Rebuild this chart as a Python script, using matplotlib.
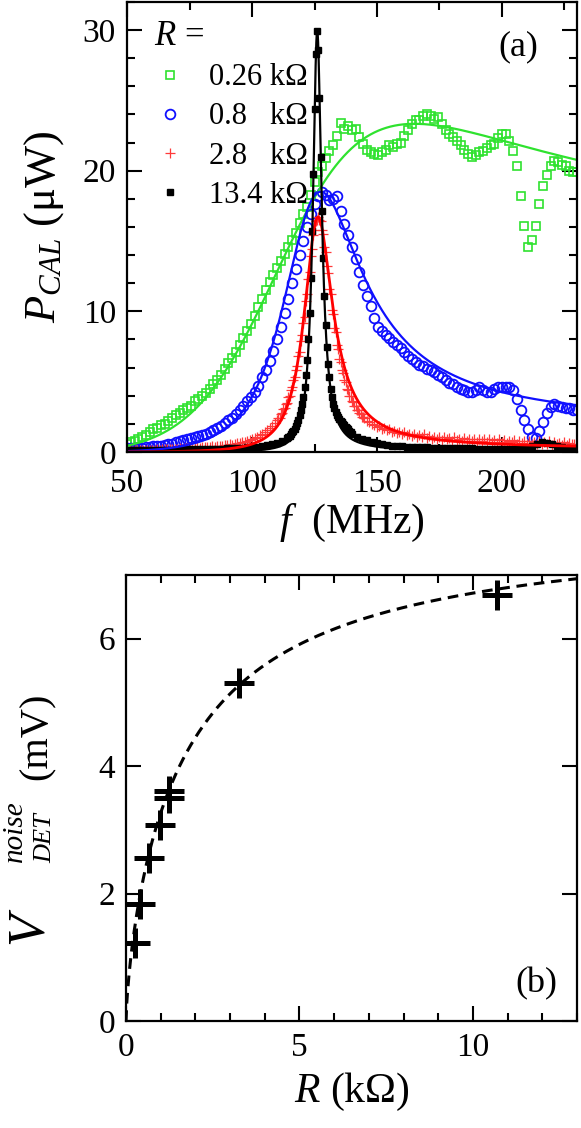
import numpy as np
import matplotlib
matplotlib.use('Agg')
import matplotlib.pyplot as plt

plt.rcParams['font.family'] = ['Liberation Serif', 'DejaVu Serif']
plt.rcParams['mathtext.fontset'] = 'custom'
plt.rcParams['mathtext.rm'] = 'Liberation Serif'
plt.rcParams['mathtext.it'] = 'Liberation Serif:italic'

# ---- panel (a): calibration power vs frequency ----
labels = ['0.26 kΩ', '0.8   kΩ', '2.8   kΩ', '13.4 kΩ']

f_gb = np.arange(50, 230.01, 1.5)   # green / blue sampling (MHz)
p_green = [0.6, 0.7, 0.8, 0.9, 1.1, 1.2, 1.4, 1.6, 1.7, 1.9,
           2.0, 2.2, 2.4, 2.6, 2.8, 3.0, 3.1, 3.3, 3.6, 3.8,
           4.0, 4.2, 4.5, 4.8, 5.1, 5.5, 5.9, 6.3, 6.7, 7.1,
           7.6, 8.1, 8.6, 9.1, 9.7, 10.3, 10.9, 11.5, 12.1, 12.6,
           13.1, 13.6, 14.1, 14.6, 15.1, 15.6, 16.3, 16.9, 17.4, 18.3,
           19.2, 19.9, 20.3, 20.9, 21.4, 21.8, 22.5, 23.4, 23.0, 23.2,
           22.9, 23.0, 22.4, 21.9, 21.5, 21.3, 21.2, 21.1, 21.3, 21.5,
           21.8, 21.7, 21.9, 22.0, 22.5, 22.9, 23.3, 23.6, 23.6, 23.9,
           24.0, 23.9, 23.7, 23.8, 23.3, 22.9, 22.6, 22.4, 22.1, 21.8,
           21.5, 21.2, 21.0, 21.1, 21.3, 21.4, 21.6, 21.8, 21.9, 22.3,
           22.6, 22.6, 22.1, 21.4, 20.3, 18.2, 16.1, 14.6, 15.1, 16.1,
           17.6, 18.9, 19.7, 20.3, 20.7, 20.6, 20.4, 20.3, 20.0, 19.9,
           19.9]
p_blue = [0.25, 0.25, 0.3, 0.3, 0.3, 0.35, 0.35, 0.4, 0.4, 0.45,
          0.5, 0.55, 0.6, 0.7, 0.75, 0.85, 0.9, 1.0, 1.05, 1.15,
          1.2, 1.3, 1.45, 1.55, 1.7, 1.85, 2.05, 2.25, 2.45, 2.7,
          3.0, 3.3, 3.6, 3.9, 4.3, 4.7, 5.3, 5.8, 6.5, 7.2,
          8.0, 8.9, 9.9, 10.9, 12.0, 13.0, 14.0, 15.0, 16.0, 16.9,
          17.6, 18.2, 18.5, 18.3, 17.9, 18.0, 18.2, 17.1, 16.2, 15.4,
          14.6, 13.7, 12.8, 11.9, 11.1, 10.4, 9.5, 8.9, 8.6, 8.3,
          8.1, 7.8, 7.6, 7.4, 7.1, 6.8, 6.6, 6.4, 6.2, 6.1,
          5.9, 5.8, 5.7, 5.5, 5.3, 5.1, 4.9, 4.8, 4.6, 4.5,
          4.4, 4.3, 4.3, 4.4, 4.6, 4.4, 4.3, 4.3, 4.5, 4.6,
          4.6, 4.6, 4.6, 4.4, 3.8, 3.0, 2.3, 1.6, 1.1, 1.0,
          1.5, 2.1, 2.8, 3.2, 3.4, 3.3, 3.2, 3.1, 3.1, 3.0,
          3.0]

f_red = np.concatenate([np.arange(50, 110, 1.0), np.arange(110, 145, 0.5),
                        np.arange(145, 230.01, 1.0)])
p_red = [0.12, 0.13, 0.1, 0.14, 0.12, 0.15, 0.13, 0.14, 0.16, 0.15,
         0.17, 0.16, 0.18, 0.17, 0.2, 0.19, 0.21, 0.2, 0.22, 0.23,
         0.22, 0.25, 0.24, 0.27, 0.26, 0.28, 0.3, 0.29, 0.32, 0.31,
         0.34, 0.33, 0.37, 0.36, 0.4, 0.39, 0.43, 0.45, 0.44, 0.49,
         0.5, 0.55, 0.53, 0.6, 0.62, 0.66, 0.7, 0.74, 0.8, 0.86,
         0.95, 1.0, 1.1, 1.18, 1.3, 1.4, 1.55, 1.68, 1.85, 2.05,
         2.3, 2.4, 2.45, 2.7, 2.75, 3.05, 3.1, 3.4, 3.5, 3.9,
         4.0, 4.4, 4.6, 5.1, 5.3, 5.8, 6.1, 6.8, 7.1, 7.9,
         8.3, 9.2, 9.6, 10.7, 11.2, 12.3, 12.8, 13.9, 14.4, 15.4,
         15.8, 16.4, 16.5, 16.7, 16.5, 16.4, 15.8, 15.5, 14.6, 14.2,
         13.2, 12.7, 11.6, 11.2, 10.1, 9.8, 8.8, 8.5, 7.6, 7.3,
         6.6, 6.4, 5.8, 5.6, 5.1, 5.0, 4.5, 4.4, 4.0, 3.95,
         3.6, 3.55, 3.3, 3.25, 3.0, 2.95, 2.75, 2.7, 2.5, 2.5,
         2.4, 2.2, 2.15, 2.0, 1.95, 1.8, 1.85, 1.65, 1.7, 1.55,
         1.6, 1.4, 1.5, 1.35, 1.45, 1.25, 1.4, 1.2, 1.3, 1.15,
         1.3, 1.1, 1.2, 1.05, 1.25, 1.0, 1.15, 0.95, 1.1, 0.9,
         1.1, 0.85, 1.05, 0.9, 1.0, 0.8, 1.05, 0.85, 0.95, 0.8,
         1.0, 0.75, 0.95, 0.8, 0.9, 0.7, 0.95, 0.75, 0.9, 0.7,
         0.9, 0.7, 0.85, 0.65, 0.9, 0.7, 0.85, 0.65, 0.8, 0.7,
         0.85, 0.6, 0.8, 0.65, 0.75, 0.6, 0.8, 0.55, 0.7, 0.6,
         0.75, 0.55, 0.7, 0.6, 0.75, 0.5, 0.7, 0.55, 0.65, 0.5,
         0.7, 0.5, 0.65, 0.55, 0.6, 0.5]

f_blk = np.concatenate([np.arange(50, 113, 2.0), np.arange(114, 140, 0.5),
                        np.arange(140, 230.01, 2.0)])
p_blk = [0.14, 0.14, 0.15, 0.15, 0.15, 0.16, 0.16, 0.16, 0.17, 0.17,
         0.17, 0.18, 0.18, 0.19, 0.2, 0.2, 0.21, 0.22, 0.23, 0.24,
         0.25, 0.27, 0.28, 0.3, 0.32, 0.35, 0.38, 0.42, 0.47, 0.55,
         0.63, 0.78,
         1.0, 1.08, 1.17, 1.27, 1.39, 1.52, 1.67, 1.85, 2.05, 2.3,
         2.6, 2.95, 3.4, 3.9, 4.6, 5.45, 6.55, 8.0, 9.9, 12.4,
         15.7, 19.8, 24.4, 28.3, 29.9, 28.6, 25.2, 21.0, 17.1, 13.8,
         11.1, 9.05, 7.5, 6.25, 5.3, 4.5, 3.9, 3.4, 3.1, 2.85,
         2.65, 2.5, 2.35, 2.2, 2.1, 2.0, 1.9, 1.8, 1.7, 1.6,
         1.5, 1.42,
         1.3, 1.1, 0.95, 0.82, 0.72, 0.63, 0.55, 0.5, 0.45, 0.42,
         0.4, 0.38, 0.36, 0.35, 0.33, 0.32, 0.31, 0.3, 0.29, 0.28,
         0.27, 0.27, 0.26, 0.25, 0.25, 0.24, 0.24, 0.23, 0.23, 0.22,
         0.22, 0.22, 0.21, 0.21, 0.22, 0.3, 0.45, 0.6, 0.68, 0.65,
         0.55, 0.42, 0.32, 0.26, 0.22, 0.2]

# resonance fit parameters (amplitude, f0, Q)
fit_green = (15.3, 126.4, 1.1)
fit_blue = (1.763, 124.3, 3.2)
fit_red = (0.2055, 126.0, 9.0)
fit_blk = (0.0333, 126.05, 30.0)

# ---- panel (b): detector noise voltage vs R ----
R_pts = [0.26, 0.39, 0.65, 0.97, 1.24, 1.24, 3.27, 10.7]
V_pts = [1.22, 1.83, 2.55, 3.08, 3.61, 3.50, 5.30, 6.69]
fit_V = (7.85, 2.5, 0.7)


def resonance(f, A, f0, Q):
    x = f / f0
    return A * x**4 / ((1 - x**2)**2 + (x / Q)**2)


green = '#2fe22f'
blue = '#1010ff'

W, H = 581, 1128
fig = plt.figure(figsize=(W / 100, H / 100), dpi=100)
ax1 = fig.add_axes([0.2186, 0.5993, 0.7745, 0.399])
ax2 = fig.add_axes([0.2169, 0.0949, 0.7762, 0.3954])

ax1.plot(f_gb, p_green, 's', ms=5.8, mfc='none', mec=green, mew=1.2, label=labels[0])
ax1.plot(f_gb, p_blue, 'o', ms=7, mfc='none', mec=blue, mew=1.3, label=labels[1])
ax1.plot(f_red, p_red, '+', ms=7, color='#ff3a3a', mew=0.9, label=labels[2])
ax1.plot(f_blk, p_blk, 's', ms=3.8, color='black', label=labels[3])

ff = np.linspace(50, 230, 2000)
ax1.plot(ff, resonance(ff, *fit_green), color=green, lw=1.6)
ax1.plot(ff, resonance(ff, *fit_blue), color=blue, lw=1.6)
ax1.plot(ff, resonance(ff, *fit_red), color='red', lw=2.0)
ax1.plot(ff, resonance(ff, *fit_blk), color='black', lw=1.6)

ax1.set_xlim(50, 230)
ax1.set_ylim(0, 32)
ax1.set_xticks([50, 100, 150, 200])
ax1.set_xticks(np.arange(50, 231, 25), minor=True)
ax1.set_yticks([0, 10, 20, 30])
ax1.set_yticks(np.arange(0, 32.1, 2), minor=True)
ax1.set_xlabel(r'$f$  (MHz)', fontsize=30, labelpad=2)
ax1.set_ylabel(r'$P_{CAL}$ (μW)', fontsize=32, labelpad=12)
ax1.text(0.87, 0.9, '(a)', transform=ax1.transAxes, fontsize=26, ha='center', va='center')

leg = ax1.legend(loc='upper left', bbox_to_anchor=(0.02, 1.0), frameon=False,
                 title=r'$R$ =', title_fontsize=25, fontsize=22, alignment='left',
                 handlelength=1.0, handletextpad=0.8, labelspacing=0.33, borderaxespad=0.2)

R = np.linspace(0, 13, 600)
V = fit_V[0] * (R / (R + fit_V[1]))**fit_V[2]
ax2.plot(R, V, color='black', lw=2.2, linestyle=(0, (3.5, 2.2)))
ax2.plot(R_pts, V_pts, '+', color='black', ms=22, mew=3.6, linestyle='none')

ax2.set_xlim(0, 13)
ax2.set_ylim(0, 7)
ax2.set_xticks([0, 5, 10])
ax2.set_xticks(np.arange(0, 13.1, 1), minor=True)
ax2.set_yticks([0, 2, 4, 6])
ax2.set_xlabel(r'$R$ (kΩ)', fontsize=30, labelpad=6)
ax2.text(0.91, 0.083, '(b)', transform=ax2.transAxes, fontsize=26, ha='center', va='center')

# y label of panel (b), built from pieces so the super/subscript stack beside V
def ylab(x, y, s, size, style='normal'):
    fig.text(x / W, 1 - y / H, s, rotation=90, ha='center', va='center',
             fontsize=size, style=style)

ylab(29, 928, 'V', 38, 'italic')
ylab(15, 831, 'noise', 21, 'italic')
ylab(45, 838, 'DET', 19, 'italic')
ylab(37, 736, '(mV)', 29)

for ax in (ax1, ax2):
    for s in ax.spines.values():
        s.set_linewidth(1.6)
    ax.tick_params(which='both', direction='in', top=True, right=True, width=1.5, labelsize=24)
    ax.tick_params(which='major', length=11, pad=8)
    ax.tick_params(which='minor', length=6)
ax1.tick_params(axis='x', which='major', pad=12)

fig.savefig('out.png', dpi=100)
